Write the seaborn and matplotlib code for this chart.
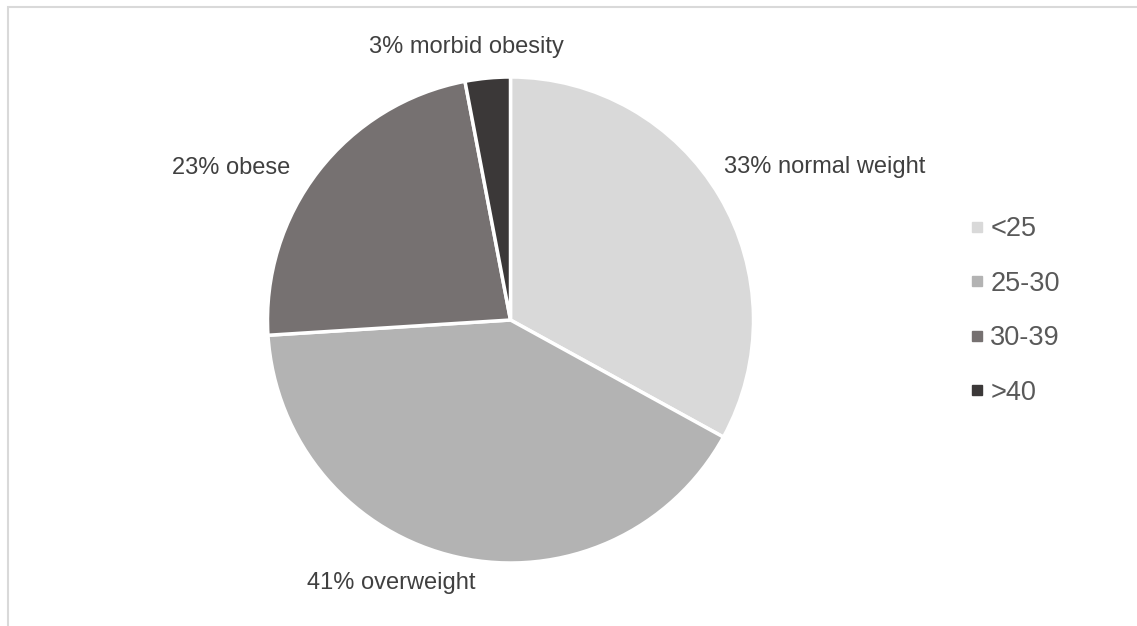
import matplotlib
matplotlib.use("Agg")
import matplotlib.pyplot as plt
from matplotlib.lines import Line2D
from matplotlib.patches import Rectangle
import seaborn as sns

categories = ["<25", "25-30", "30-39", ">40"]
values = [33, 41, 23, 3]
descriptions = ["normal weight", "overweight", "obese", "morbid obesity"]
colors = ["#d9d9d9", "#b3b3b3", "#767171", "#3b3838"]

sns.set_theme(style="white")
plt.rcParams["font.family"] = ["Liberation Sans", "DejaVu Sans"]

W, H = 1137, 626
fig = plt.figure(figsize=(W / 100, H / 100), dpi=100)
fig.patch.set_facecolor("white")

cx, cy, r = 510.5, 320, 243
ax = fig.add_axes([(cx - r) / W, (H - cy - r) / H, 2 * r / W, 2 * r / H])
wedges, _ = ax.pie(values, colors=colors, startangle=90, counterclock=False,
                   radius=1, wedgeprops=dict(edgecolor="white", linewidth=2.5))
ax.set_xlim(-1, 1)
ax.set_ylim(-1, 1)
ax.set_aspect("equal")
ax.axis("off")

# label centres in pixel coordinates
label_px = [(825, 167), (391, 583), (231, 168), (466, 47)]
for v, d, (px, py) in zip(values, descriptions, label_px):
    ax.text((px - cx) / r, (cy - py) / r, f"{v}% {d}", ha="center", va="center",
            fontsize=17, color="#404040", clip_on=False)

handles = [Line2D([0], [0], marker="s", linestyle="none", markersize=7.5,
                  markerfacecolor=c, markeredgecolor=c) for c in colors]
leg = fig.legend(handles, categories, loc="center left",
                 bbox_to_anchor=(955 / W, 1 - 311 / H), frameon=False,
                 fontsize=19.5, labelcolor="#595959", handlelength=0.6,
                 handletextpad=0.2, labelspacing=1.05, borderpad=0)

fig.patches.append(Rectangle((7.5 / W, -0.1), 1.2, 1 - 6.5 / H + 0.1,
                             transform=fig.transFigure, fill=False,
                             edgecolor="#d9d9d9", linewidth=1.5))

fig.savefig("out.png", dpi=100, facecolor="white")
